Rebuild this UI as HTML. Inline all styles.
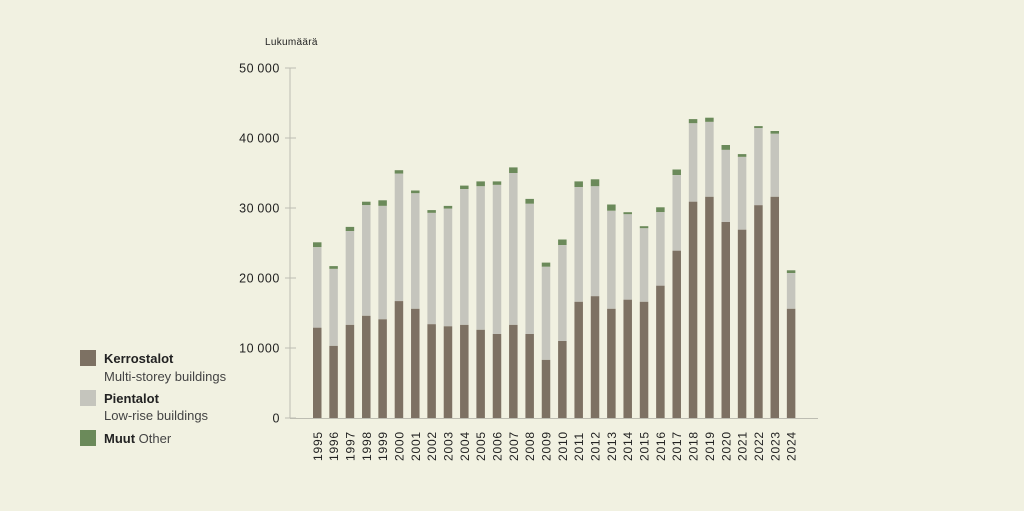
<!DOCTYPE html>
<html><head><meta charset="utf-8"><style>
html,body{margin:0;padding:0;background:#f1f1e1;}
svg{display:block;font-family:"Liberation Sans",sans-serif;}
</style></head><body>
<svg id="c" width="1024" height="511" viewBox="0 0 1024 511" xmlns="http://www.w3.org/2000/svg">
<rect width="1024" height="511" fill="#f1f1e1"/>
<text x="265" y="45" font-size="10" fill="#222" letter-spacing="0.3">Lukumäärä</text>
<line x1="290" y1="68" x2="290" y2="418" stroke="#bdbdb2" stroke-width="1"/>
<line x1="290" y1="418.5" x2="818" y2="418.5" stroke="#bdbdb2" stroke-width="1"/>
<g id="yt" font-size="12.5" fill="#222" text-anchor="end" letter-spacing="0.6"></g>
<g id="bars"></g>
<g id="xl" font-size="12" fill="#222" letter-spacing="0.8"></g>
<rect x="80" y="350" width="16" height="16" fill="#7d7163"/>
<rect x="80" y="390" width="16" height="16" fill="#c5c5bd"/>
<rect x="80" y="430" width="16" height="16" fill="#6b8a5a"/>
<g font-size="13" fill="#222">
<text x="104" y="363" font-weight="bold">Kerrostalot</text>
<text x="104" y="381" fill="#444">Multi-storey buildings</text>
<text x="104" y="403" font-weight="bold">Pientalot</text>
<text x="104" y="420" fill="#444">Low-rise buildings</text>
<text x="104" y="443"><tspan font-weight="bold">Muut</tspan><tspan fill="#444"> Other</tspan></text>
</g>
</svg>
<script>
var ns="http://www.w3.org/2000/svg";
function el(t,a,txt){var e=document.createElementNS(ns,t);for(var k in a)e.setAttribute(k,a[k]);if(txt)e.textContent=txt;return e;}
var y0=418,s=0.007;
var yt=document.getElementById('yt');
for(var v=0;v<=50000;v+=10000){var y=y0-v*s;
yt.appendChild(el('text',{x:280,y:y+4.5},v?(v/1000)+"\u2009000":"0"));
yt.appendChild(el('line',{x1:285,y1:y,x2:296,y2:y,stroke:'#bdbdb2'}));}
var k=[12.9,10.3,13.3,14.6,14.1,16.7,15.6,13.4,13.1,13.3,12.6,12.0,13.3,12.0,8.3,11.0,16.6,17.4,15.6,16.9,16.6,18.9,23.9,30.9,31.6,28.0,26.9,30.4,31.6,15.6];
var t=[24.4,21.3,26.7,30.4,30.3,34.9,32.1,29.3,29.9,32.7,33.1,33.3,35.0,30.6,21.6,24.7,33.0,33.1,29.6,29.1,27.1,29.4,34.7,42.1,42.3,38.3,37.3,41.4,40.6,20.7];
var o=[0.7,0.4,0.6,0.5,0.8,0.5,0.4,0.4,0.4,0.5,0.7,0.5,0.8,0.7,0.6,0.8,0.8,1.0,0.9,0.3,0.3,0.7,0.8,0.6,0.6,0.7,0.4,0.3,0.4,0.4];
var b=document.getElementById('bars'),xl=document.getElementById('xl');
for(var i=0;i<30;i++){var x=313+i*16.34,w=8.5;
var yk=y0-k[i]*1000*s,yp=y0-t[i]*1000*s,yo=yp-o[i]*1000*s;
b.appendChild(el('rect',{x:x,y:yo,width:w,height:yp-yo,fill:'#6b8a5a'}));
b.appendChild(el('rect',{x:x,y:yp,width:w,height:yk-yp,fill:'#c5c5bd'}));
b.appendChild(el('rect',{x:x,y:yk,width:w,height:y0-yk,fill:'#7d7163'}));
var cx=x+w/2+4.5;
xl.appendChild(el('text',{x:cx,y:461,transform:'rotate(-90 '+cx+' 461)'},String(1995+i)));}
</script>
</body></html>
